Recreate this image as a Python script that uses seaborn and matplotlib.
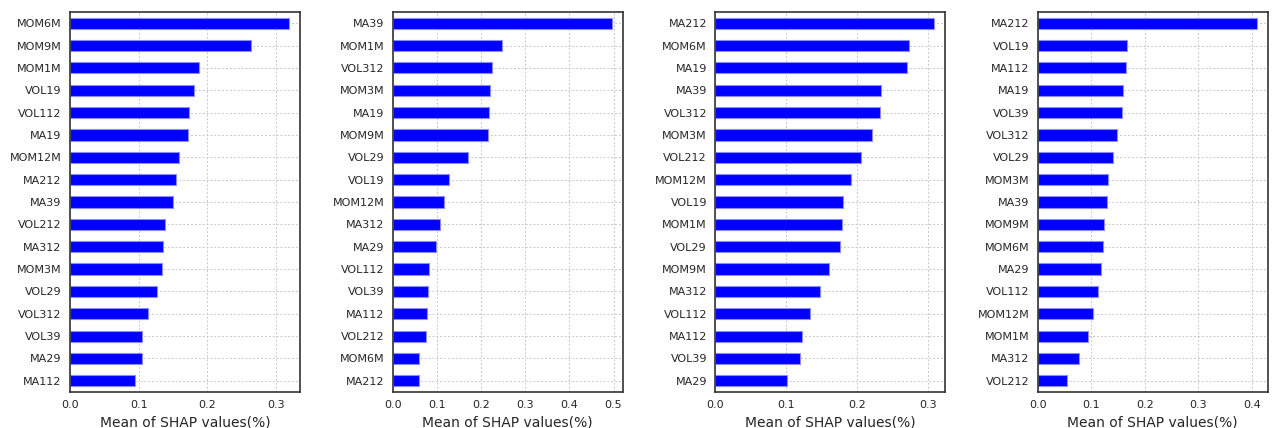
import matplotlib
matplotlib.use("Agg")
import matplotlib.pyplot as plt
import seaborn as sns
import pandas as pd

# Panel 1
feat1 = ["MOM6M", "MOM9M", "MOM1M", "VOL19", "VOL112", "MA19", "MOM12M", "MA212", "MA39",
         "VOL212", "MA312", "MOM3M", "VOL29", "VOL312", "VOL39", "MA29", "MA112"]
vals1 = [0.319, 0.264, 0.188, 0.181, 0.174, 0.172, 0.159, 0.154, 0.150,
         0.139, 0.136, 0.134, 0.126, 0.114, 0.105, 0.105, 0.095]

# Panel 2
feat2 = ["MA39", "MOM1M", "VOL312", "MOM3M", "MA19", "MOM9M", "VOL29", "VOL19", "MOM12M",
         "MA312", "MA29", "VOL112", "VOL39", "MA112", "VOL212", "MOM6M", "MA212"]
vals2 = [0.496, 0.247, 0.224, 0.221, 0.218, 0.216, 0.170, 0.127, 0.116,
         0.106, 0.098, 0.083, 0.081, 0.077, 0.075, 0.060, 0.060]

# Panel 3
feat3 = ["MA212", "MOM6M", "MA19", "MA39", "VOL312", "MOM3M", "VOL212", "MOM12M", "VOL19",
         "MOM1M", "VOL29", "MOM9M", "MA312", "VOL112", "MA112", "VOL39", "MA29"]
vals3 = [0.309, 0.273, 0.271, 0.234, 0.232, 0.221, 0.205, 0.191, 0.180,
         0.179, 0.176, 0.160, 0.148, 0.133, 0.123, 0.120, 0.101]

# Panel 4
feat4 = ["MA212", "VOL19", "MA112", "MA19", "VOL39", "VOL312", "VOL29", "MOM3M", "MA39",
         "MOM9M", "MOM6M", "MA29", "VOL112", "MOM12M", "MOM1M", "MA312", "VOL212"]
vals4 = [0.409, 0.167, 0.164, 0.159, 0.157, 0.148, 0.141, 0.132, 0.130,
         0.124, 0.122, 0.118, 0.112, 0.104, 0.093, 0.078, 0.054]

xlabel = "Mean of SHAP values(%)"

sns.set_style("white")
plt.rcParams["font.family"] = ["DejaVu Sans"]

W, H = 1272, 428
fig = plt.figure(figsize=(W / 100, H / 100), dpi=100)

lefts = [70, 392.7, 715.3, 1037.7]
ax_w = 230
top, bottom = 12, 392

panels = [(feat1, vals1), (feat2, vals2), (feat3, vals3), (feat4, vals4)]
for left, (feats, vals) in zip(lefts, panels):
    ax = fig.add_axes([left / W, 1 - bottom / H, ax_w / W, (bottom - top) / H])
    df = pd.DataFrame({"feature": feats, "value": vals})
    sns.barplot(data=df, y="feature", x="value", orient="h", ax=ax,
                color="#0000ff", saturation=1, width=0.5,
                edgecolor="#8c8cff", linewidth=0.8)
    ax.set_ylabel("")
    ax.set_xlabel(xlabel, fontsize=10, color="#262626", labelpad=4)
    ax.tick_params(axis="both", labelsize=8, colors="#262626", length=0, pad=6)
    ax.grid(True, linestyle=(0, (2, 2)), color="#c8c8c8", linewidth=0.7)
    ax.set_axisbelow(True)
    ax.margins(x=0.05)
    ax.set_xlim(0, max(vals) * 1.05)
    for s in ax.spines.values():
        s.set_visible(True)
        s.set_color("#333333")
        s.set_linewidth(1.2)

fig.savefig("out.png", dpi=100)
